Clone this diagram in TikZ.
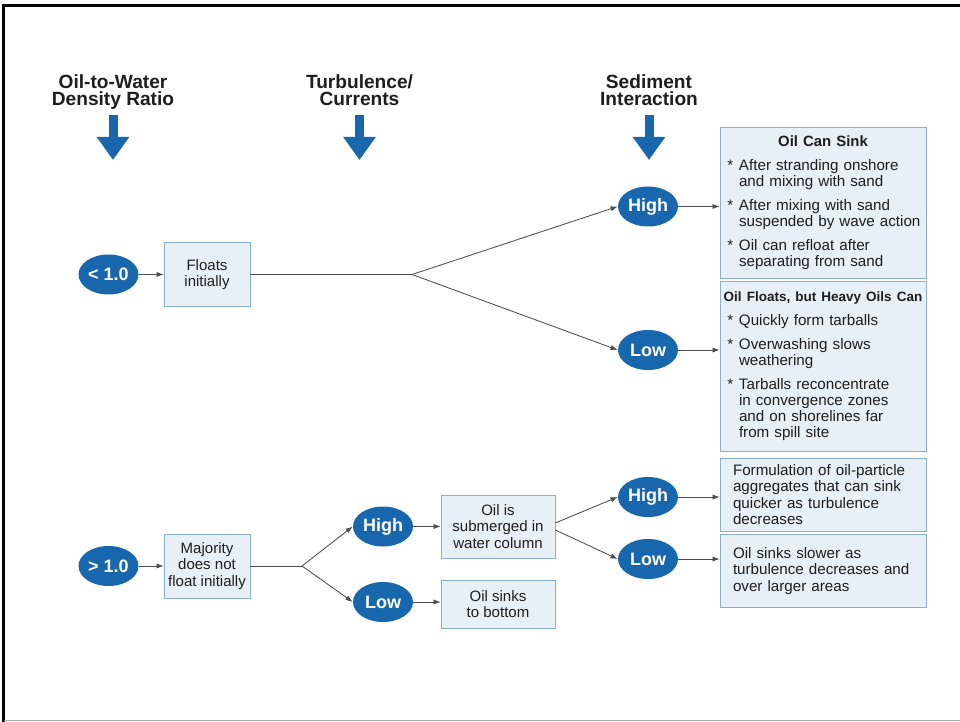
\documentclass[tikz,border=0pt]{standalone}
\usepackage{fontspec}
\setmainfont{Liberation Sans}
\usepackage{tikz}
\usetikzlibrary{arrows.meta,positioning,shapes.geometric}
\usepackage{xcolor}
\definecolor{flowblue}{HTML}{1866AC}
\definecolor{boxfill}{HTML}{E7EFF7}
\definecolor{boxline}{HTML}{8CAFCF}
\definecolor{linegray}{HTML}{4D4D4D}
\definecolor{inkdark}{HTML}{1E1E1E}
\newcommand{\bul}{\makebox[3.5mm][l]{\hspace{0.6mm}*}}
\newcommand{\ind}{\hspace*{3.5mm}}
\newcommand{\ttl}[2][9.9]{\makebox[\linewidth]{\bfseries\fontsize{#1}{11.4}\selectfont #2}}
\tikzset{
  header/.style={text=inkdark,align=center,inner sep=0pt,anchor=north,
    font=\bfseries\fontsize{13.6}{12.2}\selectfont},
  bigarrow/.style={draw=flowblue,line width=2.25mm,
    -{Triangle[length=5.75mm,width=7.75mm]}},
  ratio/.style={ellipse,fill=flowblue,text=white,inner sep=0pt,
    minimum width=15mm,minimum height=10mm,font=\bfseries\fontsize{12.8}{14}\selectfont},
  stagebox/.style={draw=boxline,fill=boxfill,text=inkdark,align=center,inner sep=0.8mm,
    font=\fontsize{10.7}{11.8}\selectfont},
  notebox/.style={draw=boxline,fill=boxfill,text=inkdark,align=left,
    text width=49mm,inner xsep=1.25mm,inner ysep=1mm,font=\fontsize{10.8}{11.4}\selectfont},
  link/.style={draw=linegray,line width=0.6pt},
  arrow/.style={link,-{Latex[length=1.8mm,width=1.3mm]}},
  edgeline/.style={draw=black,line width=0.8mm}
}

\begin{document}
\begin{tikzpicture}[x=0.25mm,y=-0.25mm]
  \useasboundingbox (0,0) rectangle (960,722);
  \draw[edgeline] (3.8,722) -- (3.8,5.3) -- (960,5.3);
  \draw[draw=gray!70,line width=0.4mm] (3.8,720.3) -- (960,720.3);

  \node[header] (hd1) at (113,74) {Oil-to-Water\\Density Ratio};
  \node[header] (hd2) at (359.5,74) {Turbulence/\\Currents};
  \node[header] (hd3) at (649,74) {Sediment\\Interaction};
  \draw[bigarrow] (hd1.north) ++(0,41) -- ++(0,45);
  \draw[bigarrow] (hd2.north) ++(0,41) -- ++(0,45);
  \draw[bigarrow] (hd3.north) ++(0,41) -- ++(0,45);

  \node[ratio] (lt) at (108.5,274.5) {< 1.0};
  \node[stagebox,minimum width=21.5mm,minimum height=16mm] (flt) at (207,274.5) {Floats\\initially};
  \coordinate (j1) at (412,274.5);
  \node[ratio] (hiS) at (648,206.5) {High};
  \node[ratio] (loS) at (648,350) {Low};
  \node[notebox,minimum height=37.75mm] (sink) at (823,202.5) {%
    \ttl[10.6]{Oil Can Sink}\\[5.7pt]
    \bul After stranding onshore\\
    \ind and mixing with sand\\[5.7pt]
    \bul After mixing with sand\\
    \ind suspended by wave action\\[5.7pt]
    \bul Oil can refloat after\\
    \ind separating from sand};
  \node[notebox,minimum height=42.5mm,below=0.75mm of sink] (heavy) {%
    \ttl[9.6]{Oil Floats, but Heavy Oils Can}\\[5.7pt]
    \bul Quickly form tarballs\\[5.7pt]
    \bul Overwashing slows\\
    \ind weathering\\[5.7pt]
    \bul Tarballs reconcentrate\\
    \ind in convergence zones\\
    \ind and on shorelines far\\
    \ind from spill site};

  \node[ratio] (gt) at (108.5,566) {> 1.0};
  \node[stagebox,minimum width=21.5mm,minimum height=16mm] (maj) at (207,566) {Majority\\does not\\float initially};
  \coordinate (j2) at (302,566);
  \node[ratio] (hiT) at (383,526.5) {High};
  \node[ratio] (loT) at (383,602) {Low};
  \node[stagebox,minimum width=28.5mm,minimum height=15.75mm] (subm) at (498,526.5) {Oil is\\submerged in\\water column};
  \node[stagebox,minimum width=28.5mm,minimum height=12mm] (bot) at (498,604) {Oil sinks\\to bottom};
  \node[ratio] (hiS2) at (648,497) {High};
  \node[ratio] (loS2) at (648,559) {Low};
  \node[notebox,text width=45mm,inner xsep=3.25mm,minimum height=18.25mm,
    font=\fontsize{10.8}{11.7}\selectfont] (agg) at (823,494.5) {%
    Formulation of oil-particle\\
    aggregates that can sink\\
    quicker as turbulence\\
    decreases};
  \node[notebox,text width=45mm,inner xsep=3.25mm,minimum height=18.25mm,
    font=\fontsize{10.8}{11.7}\selectfont,below=0.75mm of agg] (slow) {%
    Oil sinks slower as\\
    turbulence decreases and\\
    over larger areas};

  \draw[arrow] (lt) -- (flt);
  \draw[link] (flt) -- (j1);
  \draw[arrow] (j1) -- (hiS.west);
  \draw[arrow] (j1) -- (loS.west);
  \draw[arrow] (hiS) -- (hiS -| sink.west);
  \draw[arrow] (loS) -- (loS -| heavy.west);

  \draw[arrow] (gt) -- (maj);
  \draw[link] (maj) -- (j2);
  \draw[arrow] (j2) -- (hiT.west);
  \draw[arrow] (j2) -- (loT.west);
  \draw[arrow] (hiT) -- (hiT -| subm.west);
  \draw[arrow] (loT) -- (loT -| bot.west);
  \draw[arrow] ([yshift=2.5pt]subm.east) -- (hiS2.west);
  \draw[arrow] ([yshift=-2.5pt]subm.east) -- (loS2.west);
  \draw[arrow] (hiS2) -- (hiS2 -| agg.west);
  \draw[arrow] (loS2) -- (loS2 -| slow.west);
\end{tikzpicture}
\end{document}
